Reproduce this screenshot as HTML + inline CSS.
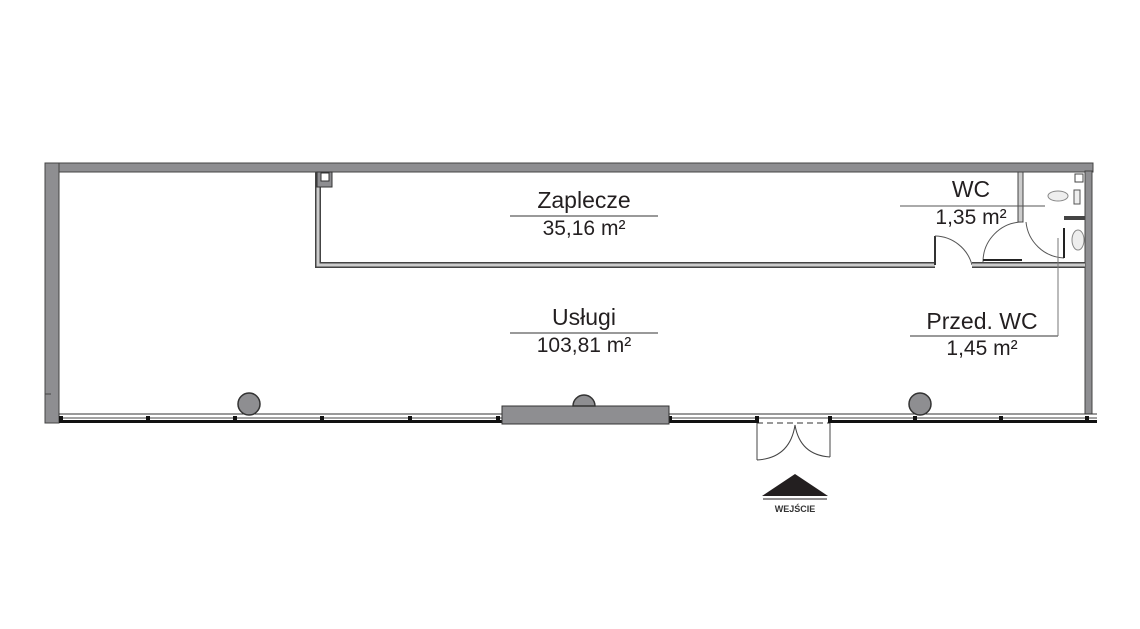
<!DOCTYPE html>
<html><head><meta charset="utf-8"><style>
html,body{margin:0;padding:0;background:#fff;}
svg{display:block;}
text{font-family:"Liberation Sans",sans-serif;fill:#231f20;}
</style></head><body>
<svg width="1140" height="629" viewBox="0 0 1140 629" xmlns="http://www.w3.org/2000/svg">
<!-- outer walls -->
<rect x="45" y="163" width="1048" height="9" fill="#8e8e91" stroke="#444" stroke-width="1"/>
<rect x="45" y="163" width="14" height="260" fill="#8e8e91" stroke="#444" stroke-width="1"/>
<rect x="1085" y="171" width="7" height="243" fill="#8e8e91" stroke="#444" stroke-width="1"/>
<line x1="45" y1="394" x2="51" y2="394" stroke="#444"/>
<!-- glazing -->
<line x1="59" y1="414" x2="1097" y2="414" stroke="#333" stroke-width="1"/>
<line x1="59" y1="418" x2="1097" y2="418" stroke="#444" stroke-width="1"/>
<line x1="59" y1="421.5" x2="757" y2="421.5" stroke="#111" stroke-width="3"/>
<line x1="830" y1="421.5" x2="1097" y2="421.5" stroke="#111" stroke-width="3"/>
<line x1="757" y1="423" x2="830" y2="423" stroke="#333" stroke-width="1" stroke-dasharray="6,4"/>
<g fill="#111">
<rect x="59" y="416" width="4" height="7"/><rect x="146" y="416" width="4" height="7"/>
<rect x="233" y="416" width="4" height="7"/><rect x="320" y="416" width="4" height="7"/>
<rect x="408" y="416" width="4" height="7"/><rect x="496" y="416" width="4" height="7"/>
<rect x="668" y="416" width="4" height="7"/><rect x="755" y="416" width="4" height="7"/>
<rect x="828" y="416" width="4" height="7"/><rect x="913" y="416" width="4" height="7"/>
<rect x="999" y="416" width="4" height="7"/><rect x="1085" y="416" width="4" height="7"/>
</g>
<!-- central block -->
<rect x="502" y="406" width="167" height="18" fill="#8e8e91" stroke="#333"/>
<path d="M573,406 A11,11 0 0 1 595,406 Z" fill="#8e8e91" stroke="#333" stroke-width="1.5"/>
<circle cx="249" cy="404" r="11" fill="#8e8e91" stroke="#333" stroke-width="1.5"/>
<circle cx="920" cy="404" r="11" fill="#8e8e91" stroke="#333" stroke-width="1.5"/>
<!-- entrance doors -->
<g fill="none" stroke="#444" stroke-width="1">
<line x1="757" y1="423" x2="757" y2="460"/><line x1="830" y1="423" x2="830" y2="457"/>
<path d="M757,460 Q790,458 795,425"/><path d="M830,457 Q800,455 795,425"/>
</g>
<polygon points="795,474 762,496 828,496" fill="#231f20"/>
<line x1="763" y1="499" x2="827" y2="499" stroke="#231f20" stroke-width="1"/>
<text x="795" y="512" font-size="9" text-anchor="middle" font-weight="bold" style="fill:#333">WEJŚCIE</text>
<!-- Zaplecze partition -->
<path d="M318,172 V265 H935" fill="none" stroke="#444" stroke-width="6"/>
<path d="M318,172 V265 H935" fill="none" stroke="#ccc" stroke-width="3"/>
<rect x="317" y="172" width="15" height="15" fill="#8e8e91" stroke="#333"/>
<rect x="321" y="173" width="8" height="8" fill="#fff" stroke="#333"/>
<!-- WC area -->
<path d="M935,265 V236" fill="none" stroke="#333" stroke-width="2"/>
<path d="M935,236 A39,39 0 0 1 972,265" fill="none" stroke="#555" stroke-width="1"/>
<path d="M972,265 H1085" fill="none" stroke="#444" stroke-width="6"/>
<path d="M972,265 H1085" fill="none" stroke="#ccc" stroke-width="3"/>
<rect x="1018" y="172" width="5" height="50" fill="#ccc" stroke="#444"/>
<path d="M983,262 A40,40 0 0 1 1022,222" fill="none" stroke="#555" stroke-width="1"/>
<path d="M1026,222 A40,40 0 0 0 1064,258" fill="none" stroke="#555" stroke-width="1"/>
<line x1="1064" y1="228" x2="1064" y2="258" stroke="#222" stroke-width="2"/>
<line x1="983" y1="260" x2="1022" y2="260" stroke="#222" stroke-width="2"/>
<line x1="1064" y1="218" x2="1085" y2="218" stroke="#444" stroke-width="4"/>
<rect x="1075" y="174" width="8" height="8" fill="#fff" stroke="#444"/>
<ellipse cx="1058" cy="196" rx="10" ry="5" fill="#eee" stroke="#888"/>
<rect x="1074" y="190" width="6" height="14" fill="#eee" stroke="#555"/>
<ellipse cx="1078" cy="240" rx="6" ry="10" fill="#eee" stroke="#888"/>
<!-- labels -->
<line x1="510" y1="216" x2="658" y2="216" stroke="#333"/>
<text x="584" y="208" font-size="23" text-anchor="middle">Zaplecze</text>
<text x="584" y="235" font-size="21" text-anchor="middle">35,16 m²</text>
<line x1="510" y1="333" x2="658" y2="333" stroke="#333"/>
<text x="584" y="325" font-size="23" text-anchor="middle">Usługi</text>
<text x="584" y="352" font-size="21" text-anchor="middle">103,81 m²</text>
<line x1="900" y1="206" x2="1045" y2="206" stroke="#555"/>
<text x="971" y="197" font-size="23" text-anchor="middle">WC</text>
<text x="971" y="224" font-size="21" text-anchor="middle">1,35 m²</text>
<line x1="910" y1="336" x2="1058" y2="336" stroke="#333"/>
<line x1="1058" y1="238" x2="1058" y2="336" stroke="#777"/>
<text x="982" y="329" font-size="23" text-anchor="middle">Przed. WC</text>
<text x="982" y="355" font-size="21" text-anchor="middle">1,45 m²</text>
</svg>
</body></html>
